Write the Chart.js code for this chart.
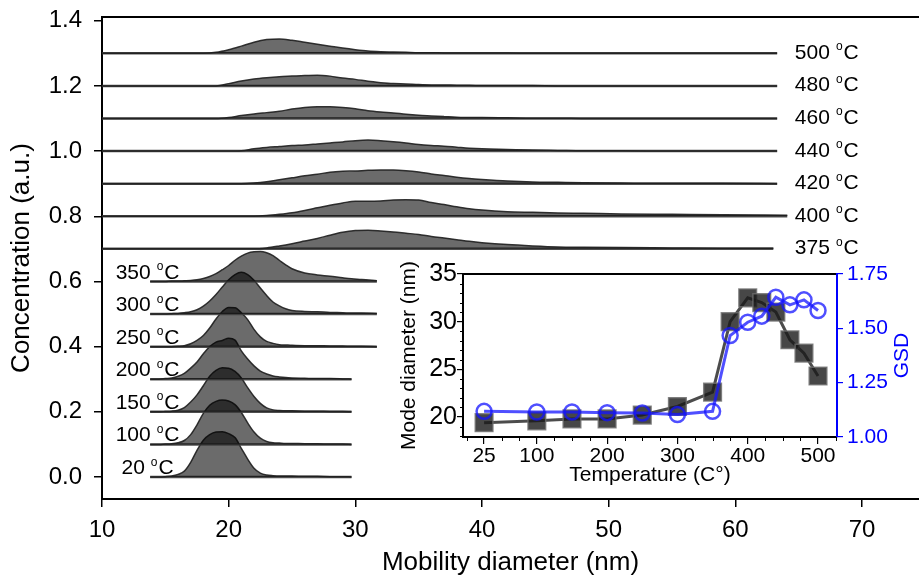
<!DOCTYPE html>
<html>
<head>
<meta charset="utf-8">
<script src="https://cdn.jsdelivr.net/npm/chart.js@4.4.0/dist/chart.umd.min.js"></script>
<style>
  html, body { margin: 0; padding: 0; background: #fff; overflow: hidden; }
  #wrap { position: relative; width: 919px; height: 576px; }
  #sizeChart { position: absolute; left: 0; top: 0; }
  #insetChart { position: absolute; left: 393px; top: 260px; }
</style>
</head>
<body>
<div id="wrap">
  <canvas id="sizeChart" width="919" height="576"></canvas>
  <canvas id="insetChart" width="526" height="236"></canvas>
</div>
<script>
// ---- size distributions, one per furnace temperature, stacked by offset ----
const highTemps = ["500", "480", "460", "440", "420", "400", "375"];
const highOffsets = [1.3, 1.2, 1.1, 1.0, 0.9, 0.8, 0.7];
const highEnds = [63.3, 63.3, 63.3, 63.3, 63.3, 64.1, 63.0];
const highDiam = [10, 18, 19, 20, 21, 22, 23, 24, 25, 26, 27, 28, 29, 30, 31, 32, 33, 34, 35, 36, 37, 38, 39, 40, 42, 44, 46, 48, 51, 55, 59, 63.3];

const h500 = [0, 0, 0.003, 0.011, 0.022, 0.034, 0.042, 0.044, 0.040, 0.034, 0.028, 0.022, 0.016, 0.011, 0.007, 0.005, 0.004, 0.003, 0.002, 0.002, 0.001, 0.001, 0.001, 0.001, 0.001, 0, 0, 0, 0, 0, 0, 0];
const h480 = [0, 0, 0, 0.007, 0.015, 0.021, 0.025, 0.028, 0.030, 0.032, 0.033, 0.030, 0.024, 0.020, 0.014, 0.010, 0.007, 0.006, 0.004, 0.003, 0.003, 0.002, 0.002, 0.001, 0.001, 0.001, 0, 0, 0, 0, 0, 0];
const h460 = [0, 0, 0, 0.003, 0.009, 0.014, 0.018, 0.022, 0.029, 0.034, 0.036, 0.036, 0.034, 0.030, 0.024, 0.020, 0.017, 0.013, 0.010, 0.008, 0.006, 0.004, 0.003, 0.003, 0.002, 0.001, 0.001, 0, 0, 0, 0, 0];
const h440 = [0, 0, 0, 0, 0.001, 0.007, 0.011, 0.014, 0.017, 0.019, 0.022, 0.025, 0.028, 0.032, 0.034, 0.032, 0.029, 0.025, 0.020, 0.017, 0.015, 0.012, 0.009, 0.007, 0.005, 0.003, 0.002, 0.001, 0.001, 0, 0, 0];
const h420 = [0, 0, 0, 0, 0, 0.002, 0.006, 0.012, 0.018, 0.024, 0.029, 0.035, 0.038, 0.039, 0.041, 0.042, 0.042, 0.040, 0.036, 0.030, 0.025, 0.020, 0.016, 0.013, 0.008, 0.005, 0.004, 0.003, 0.002, 0.001, 0.001, 0];
const h400 = [0, 0, 0, 0, 0, 0, 0.002, 0.006, 0.011, 0.018, 0.026, 0.034, 0.041, 0.046, 0.046, 0.047, 0.050, 0.051, 0.050, 0.042, 0.036, 0.029, 0.023, 0.019, 0.014, 0.012, 0.010, 0.009, 0.007, 0.006, 0.005, 0.003];
const h375 = [0, 0, 0, 0, 0, 0, 0.003, 0.009, 0.016, 0.024, 0.032, 0.042, 0.051, 0.056, 0.057, 0.055, 0.052, 0.048, 0.044, 0.038, 0.033, 0.028, 0.023, 0.019, 0.013, 0.009, 0.006, 0.005, 0.004, 0.003, 0.002, 0.002];
const highHeights = [h500, h480, h460, h440, h420, h400, h375];

const lowTemps = ["350", "300", "250", "200", "150", "100", "20"];
const lowOffsets = [0.6, 0.5, 0.4, 0.3, 0.2, 0.1, 0.0];
const lowDiam = [13.8, 14.5, 15, 15.5, 16, 16.5, 17, 17.5, 18, 18.5, 19, 19.5, 20, 20.5, 21, 21.5, 22, 22.5, 23, 23.5, 24, 24.5, 25, 26, 27, 28, 29, 29.7, 30.5, 31.7];

const h350 = [0, 0, 0, 0.001, 0.001, 0.002, 0.003, 0.005, 0.009, 0.015, 0.024, 0.036, 0.049, 0.065, 0.078, 0.087, 0.091, 0.092, 0.088, 0.079, 0.065, 0.051, 0.039, 0.026, 0.020, 0.016, 0.011, 0.008, 0.006, 0.002];
const h300 = [0, 0, 0, 0.001, 0.002, 0.004, 0.007, 0.013, 0.024, 0.040, 0.060, 0.083, 0.105, 0.121, 0.128, 0.121, 0.104, 0.080, 0.057, 0.037, 0.025, 0.016, 0.011, 0.008, 0.007, 0.005, 0.004, 0.003, 0.003, 0.002];
const h250 = [0, 0, 0, 0, 0.001, 0.003, 0.009, 0.019, 0.034, 0.057, 0.085, 0.108, 0.120, 0.119, 0.104, 0.083, 0.053, 0.030, 0.016, 0.010, 0.006, 0.005, 0.004, 0.003, 0.003, 0.002, 0.002, 0.001, 0.001, 0];
const h200 = [0, 0, 0.002, 0.004, 0.009, 0.018, 0.034, 0.053, 0.078, 0.100, 0.114, 0.119, 0.126, 0.120, 0.087, 0.062, 0.041, 0.025, 0.016, 0.010, 0.007, 0.005, 0.004, 0.003, 0.002, 0.002, 0.001, 0];
const h150 = [0, 0, 0.001, 0.002, 0.005, 0.013, 0.030, 0.052, 0.080, 0.109, 0.127, 0.135, 0.134, 0.124, 0.104, 0.074, 0.047, 0.026, 0.012, 0.006, 0.004, 0.003, 0.003, 0.002, 0.002, 0.001, 0.001, 0];
const h100 = [0, 0, 0.001, 0.002, 0.005, 0.012, 0.030, 0.060, 0.095, 0.120, 0.132, 0.136, 0.133, 0.122, 0.098, 0.066, 0.038, 0.019, 0.009, 0.005, 0.004, 0.003, 0.003, 0.002, 0.002, 0.001, 0.001, 0];
const h20 = [0, 0, 0.001, 0.003, 0.008, 0.018, 0.045, 0.082, 0.113, 0.130, 0.138, 0.139, 0.133, 0.121, 0.088, 0.055, 0.027, 0.012, 0.006, 0.004, 0.003, 0.003, 0.003, 0.002, 0.002, 0.001, 0.001, 0];
const lowHeights = [h350, h300, h250, h200, h150, h100, h20];

const xTicksMain = [10, 20, 30, 40, 50, 60, 70];
const yTicksMain = [0, 0.2, 0.4, 0.6, 0.8, 1.0, 1.2, 1.4];

// ---- inset: mode diameter and GSD vs temperature ----
const tempC = [25, 100, 150, 200, 250, 300, 350, 375, 400, 420, 440, 460, 480, 500];
const modeDiameter = [19.4, 19.6, 19.8, 19.8, 20.2, 21.1, 22.6, 30.0, 32.5, 32.0, 31.0, 28.1, 26.7, 24.3];
const gsd = [1.118, 1.115, 1.115, 1.112, 1.110, 1.103, 1.118, 1.467, 1.528, 1.556, 1.643, 1.608, 1.631, 1.582];
const tempTicks = [25, 100, 200, 300, 400, 500];
const modeTicks = [20, 25, 30, 35];
const gsdTicks = [1.0, 1.25, 1.5, 1.75];

const FONT = '"Liberation Sans", Arial, Helvetica, sans-serif';
Chart.defaults.font.family = FONT;
Chart.defaults.color = '#000';

const FILL = 'rgba(0, 0, 0, 0.58)';
const EDGE = 'rgba(30, 30, 30, 0.9)';
const BASE = 'rgba(60, 60, 60, 0.9)';

function ridge(diam, heights, offset, end) {
  return heights.map((h, i) => ({
    x: (end !== undefined && i === heights.length - 1) ? end : diam[i],
    y: offset + h
  }));
}

const sets = [];
function addCurve(points, offset) {
  sets.push({
    data: points,
    fill: { value: offset },
    backgroundColor: FILL,
    borderColor: EDGE,
    borderWidth: 1.5,
    pointRadius: 0,
    cubicInterpolationMode: 'monotone'
  });
  sets.push({
    data: [{ x: points[0].x, y: offset }, { x: points[points.length - 1].x, y: offset }],
    fill: false,
    borderColor: BASE,
    borderWidth: 2.5,
    pointRadius: 0
  });
}
highHeights.forEach((h, i) => addCurve(ridge(highDiam, h, highOffsets[i], highEnds[i]), highOffsets[i]));
lowHeights.forEach((h, i) => addCurve(ridge(lowDiam, h, lowOffsets[i]), lowOffsets[i]));

// "500 oC" style label with a raised small o
function tempLabel(ctx, text, x, y, align) {
  const big = '21px ' + FONT, small = '12px ' + FONT;
  ctx.font = big;
  const wNum = ctx.measureText(text).width;
  const wC = ctx.measureText('C').width;
  ctx.font = small;
  const wO = ctx.measureText('o').width;
  const gap = 6;
  const total = wNum + gap + wO + 1 + wC;
  const left = align === 'center' ? x - total / 2 : x;
  const base = y + 7.5;
  ctx.fillStyle = '#000';
  ctx.textAlign = 'left';
  ctx.textBaseline = 'alphabetic';
  ctx.font = big;
  ctx.fillText(text, left, base);
  ctx.font = small;
  ctx.fillText('o', left + wNum + gap, base - 8.5);
  ctx.font = big;
  ctx.fillText('C', left + wNum + gap + wO + 1, base);
}

const curveLabels = {
  id: 'curveLabels',
  afterDatasetsDraw(chart) {
    const { ctx, scales: { x, y } } = chart;
    ctx.save();
    highTemps.forEach((t, i) => tempLabel(ctx, t, x.getPixelForValue(64.7), y.getPixelForValue(highOffsets[i]) - 2, 'left'));
    lowTemps.forEach((t, i) => tempLabel(ctx, t, x.getPixelForValue(13.6), y.getPixelForValue(lowOffsets[i] + 0.032), 'center'));
    ctx.restore();
  }
};

new Chart(document.getElementById('sizeChart'), {
  type: 'line',
  data: { datasets: sets },
  options: {
    responsive: false,
    animation: false,
    devicePixelRatio: 1,
    plugins: { legend: { display: false }, tooltip: { enabled: false } },
    layout: { padding: 0 },
    scales: {
      x: {
        type: 'linear',
        min: 10,
        max: 74.5,
        afterBuildTicks: (s) => { s.ticks = xTicksMain.map(v => ({ value: v })); },
        afterFit: (s) => { s.height = 77; s.paddingLeft = 0; s.paddingRight = 0; },
        grid: { drawOnChartArea: false, tickLength: 8, color: '#000', lineWidth: 1.5 },
        border: { color: '#000', width: 2 },
        ticks: { font: { size: 24 }, padding: 9, maxRotation: 0 },
        title: { display: true, text: 'Mobility diameter (nm)', font: { size: 26, lineHeight: 1 }, padding: { top: 0, bottom: 0 } }
      },
      xTop: {
        type: 'linear',
        position: 'top',
        min: 10,
        max: 74.5,
        afterFit: (s) => { s.height = 17; s.paddingLeft = 0; s.paddingRight = 0; },
        grid: { drawOnChartArea: false, drawTicks: false },
        border: { color: '#000', width: 2 },
        ticks: { display: false }
      },
      y: {
        type: 'linear',
        min: -0.0675,
        max: 1.4114,
        afterBuildTicks: (s) => { s.ticks = yTicksMain.map(v => ({ value: v })); },
        afterFit: (s) => { s.width = 102; s.paddingTop = 0; s.paddingBottom = 0; },
        grid: { drawOnChartArea: false, tickLength: 8, color: '#000', lineWidth: 1.5 },
        border: { color: '#000', width: 2 },
        ticks: { font: { size: 24 }, padding: 12, callback: (v) => v.toFixed(1) },
        title: { display: true, text: 'Concentration (a.u.)', font: { size: 26, lineHeight: 1 }, padding: { top: 9, bottom: 0 } }
      }
    }
  },
  plugins: [curveLabels]
});

// short minor ticks on the inset, and the GSD title reading upwards
const insetExtras = {
  id: 'insetExtras',
  afterDraw(chart) {
    const { ctx, scales: { x, y, y2 } } = chart;
    ctx.save();
    ctx.strokeStyle = '#000';
    ctx.lineWidth = 1;
    ctx.beginPath();
    for (let t = 0; t <= 525; t += 25) {
      if (tempTicks.includes(t)) continue;
      const px = Math.round(x.getPixelForValue(t)) + 0.5;
      ctx.moveTo(px, x.top);
      ctx.lineTo(px, x.top + 4);
    }
    for (let v = 18; v <= 35; v++) {
      if (modeTicks.includes(v)) continue;
      const py = Math.round(y.getPixelForValue(v)) + 0.5;
      ctx.moveTo(y.right, py);
      ctx.lineTo(y.right - 3, py);
    }
    ctx.stroke();
    ctx.translate(y2.right - 17, (y2.top + y2.bottom) / 2);
    ctx.rotate(-Math.PI / 2);
    ctx.fillStyle = '#0000ff';
    ctx.font = '21px ' + FONT;
    ctx.textAlign = 'center';
    ctx.textBaseline = 'middle';
    ctx.fillText('GSD', 0, 0);
    ctx.restore();
  }
};

new Chart(document.getElementById('insetChart'), {
  type: 'line',
  data: {
    datasets: [
      {
        label: 'GSD',
        data: tempC.map((t, i) => ({ x: t, y: gsd[i] })),
        yAxisID: 'y2',
        borderColor: 'rgba(20, 20, 255, 0.75)',
        borderWidth: 3,
        pointStyle: 'circle',
        pointRadius: 7.5,
        pointBorderWidth: 2.5,
        pointBackgroundColor: 'rgba(0, 0, 0, 0)',
        pointBorderColor: 'rgba(20, 20, 255, 0.75)',
        tension: 0
      },
      {
        label: 'Mode diameter',
        data: tempC.map((t, i) => ({ x: t, y: modeDiameter[i] })),
        yAxisID: 'y',
        borderColor: 'rgba(0, 0, 0, 0.7)',
        borderWidth: 3,
        pointStyle: 'rect',
        pointRadius: 12.5,
        pointBorderWidth: 1.5,
        pointBackgroundColor: 'rgba(25, 25, 25, 0.8)',
        pointBorderColor: 'rgba(110, 110, 110, 0.8)',
        tension: 0
      }
    ]
  },
  options: {
    responsive: false,
    animation: false,
    devicePixelRatio: 1,
    plugins: { legend: { display: false }, tooltip: { enabled: false } },
    layout: { padding: { top: 13 } },
    scales: {
      x: {
        type: 'linear',
        min: -5,
        max: 527,
        afterBuildTicks: (s) => { s.ticks = tempTicks.map(v => ({ value: v })); },
        afterFit: (s) => { s.height = 59; s.paddingLeft = 0; s.paddingRight = 0; },
        grid: { drawOnChartArea: false, tickLength: 7, color: '#000', lineWidth: 1.2 },
        border: { color: '#000', width: 2 },
        ticks: { font: { size: 21 }, padding: 0, maxRotation: 0 },
        title: { display: true, text: 'Temperature (C\u00b0)', font: { size: 21 }, padding: { top: 0, bottom: 8 } }
      },
      xTop: {
        type: 'linear',
        position: 'top',
        min: -5,
        max: 527,
        afterFit: (s) => { s.height = 0; s.paddingLeft = 0; s.paddingRight = 0; },
        grid: { drawOnChartArea: false, drawTicks: false },
        border: { color: '#000', width: 2 },
        ticks: { display: false }
      },
      y: {
        type: 'linear',
        position: 'left',
        min: 17.9,
        max: 35,
        afterBuildTicks: (s) => { s.ticks = modeTicks.map(v => ({ value: v })); },
        afterFit: (s) => { s.width = 70; s.paddingTop = 0; s.paddingBottom = 0; },
        grid: { drawOnChartArea: false, tickLength: 6, color: '#000', lineWidth: 1.2 },
        border: { color: '#000', width: 2 },
        ticks: { font: { size: 25 }, padding: 0 },
        title: { display: true, text: 'Mode diameter (nm)', font: { size: 21 }, padding: { top: 4, bottom: 0 } }
      },
      y2: {
        type: 'linear',
        position: 'right',
        min: 1.0,
        max: 1.75,
        afterBuildTicks: (s) => { s.ticks = gsdTicks.map(v => ({ value: v })); },
        afterFit: (s) => { s.width = 82; s.paddingTop = 0; s.paddingBottom = 0; },
        grid: { drawOnChartArea: false, tickLength: 6, color: '#0000ff', lineWidth: 1.2 },
        border: { color: '#0000ff', width: 2 },
        ticks: { font: { size: 21 }, color: '#0000ff', padding: 4, callback: (v) => v.toFixed(2) }
      }
    }
  },
  plugins: [insetExtras]
});
</script>
</body>
</html>
